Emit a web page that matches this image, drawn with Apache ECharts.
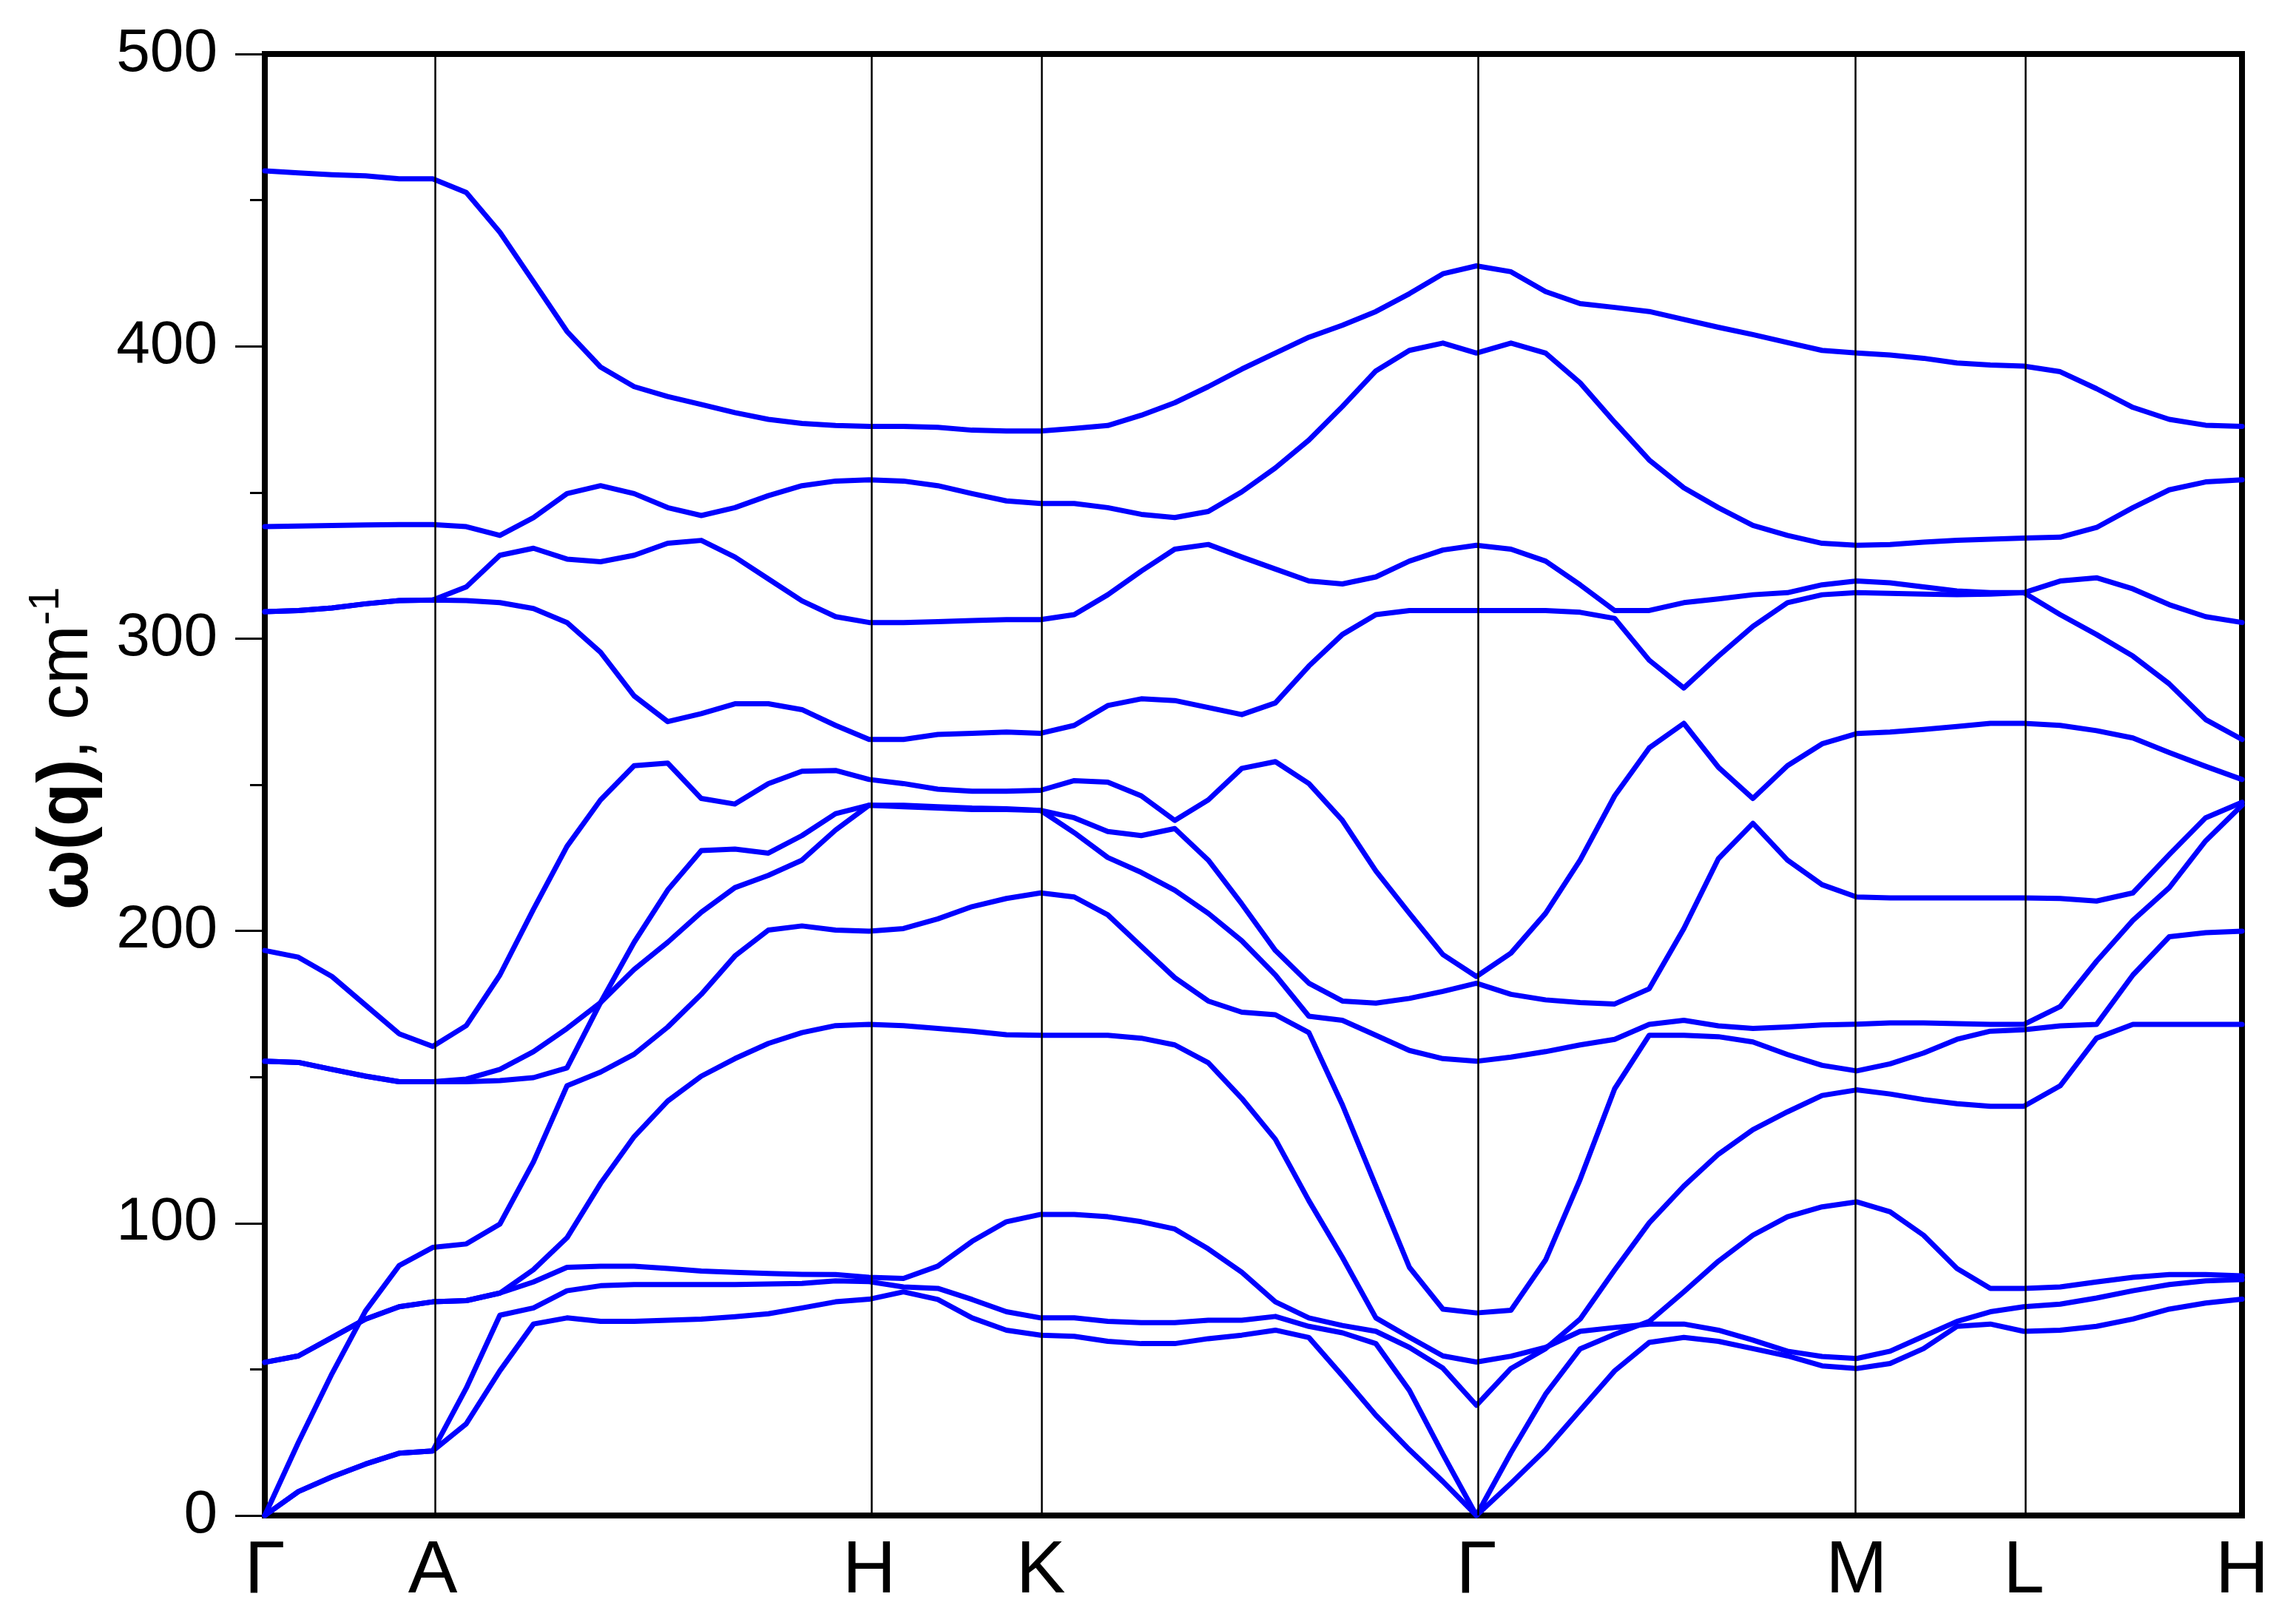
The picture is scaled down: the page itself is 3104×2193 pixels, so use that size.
<!DOCTYPE html>
<html><head><meta charset="utf-8">
<script src="https://cdn.jsdelivr.net/npm/echarts@6/dist/echarts.min.js"></script>
<style>html,body{margin:0;padding:0;background:#fff}#c{width:3104px;height:2193px}</style>
</head><body><div id="c"></div>
<script>
// High-symmetry points along the k-path
const symLabels = ['Γ','A','H','K','Γ','M','L','H'];
const symPos = [0, 0.227, 0.817, 1.049, 1.638, 2.152, 2.378, 2.673];
// q-point path coordinates
const kpath = [0, 0.0454, 0.0908, 0.1362, 0.1816, 0.227,
  0.2724, 0.3178, 0.3632, 0.4085, 0.4539, 0.4993, 0.5447, 0.5901, 0.6355, 0.6808, 0.7262, 0.7716, 0.817,
  0.8634, 0.9098, 0.9562, 1.0026, 1.049,
  1.0943, 1.1396, 1.1849, 1.2302, 1.2755, 1.3208, 1.3662, 1.4115, 1.4568, 1.5021, 1.5474, 1.5927, 1.638,
  1.6847, 1.7315, 1.7782, 1.8249, 1.8716, 1.9184, 1.9651, 2.0118, 2.0585, 2.1053, 2.152,
  2.1972, 2.2424, 2.2876, 2.3328, 2.378,
  2.4272, 2.4763, 2.5255, 2.5747, 2.6238, 2.673];
// phonon branches (cm^-1)
const band1 = [460.0, 459.3, 458.7, 458.3, 457.3, 457.3,
  452.6, 439, 422.1, 405.1, 392.9, 386.2, 382.8, 380.1, 377.3, 375, 373.6, 372.9, 372.6,
  372.6, 372.3, 371.3, 371, 371,
  371.9, 372.9, 376.4, 380.7, 386.2, 392.2, 397.7, 403.1, 407.2, 411.9, 418, 424.8, 427.5,
  425.5, 418.7, 414.6, 413.3, 411.9, 409.2, 406.5, 404, 401.3, 398.6, 397.7,
  397, 395.9, 394.3, 393.6, 393.2,
  391.3, 385.5, 379.1, 375, 373, 372.6];
const band2 = [338.3, 338.5, 338.7, 338.9, 339, 339,
  338.3, 335.3, 341.4, 349.6, 352.3, 349.6, 344.8, 342.1, 344.8, 348.9, 352.3, 353.9, 354.3,
  353.9, 352.3, 349.6, 347.1, 346.2,
  346.2, 344.8, 342.5, 341.4, 343.5, 350.2, 358.4, 367.9, 379.4, 391.6, 398.6, 401.1, 397.7,
  401.1, 397.7, 387.5, 374, 361.1, 351.6, 344.8, 338.7, 335.3, 332.6, 331.9,
  332.2, 333, 333.6, 334, 334.4,
  334.7, 338, 344.8, 350.9, 353.6, 354.3];
const band3 = [309.2, 309.6, 310.5, 311.9, 313, 313.2,
  317.7, 328.5, 330.9, 327.2, 326.3, 328.5, 332.6, 333.6, 327.9, 320.4, 312.9, 307.5, 305.5,
  305.5, 305.8, 306.2, 306.5, 306.5,
  308.2, 315, 323.1, 330.6, 332.2, 327.9, 323.8, 319.7, 318.7, 321.1, 326.5, 330.3, 331.9,
  330.6, 326.5, 318.4, 309.6, 309.6, 312.3, 313.6, 315, 315.7, 318.4, 319.7,
  319.1, 317.7, 316.3, 315.7, 315.7,
  319.7, 320.8, 317, 311.6, 307.5, 305.5];
const band4 = [309.2, 309.6, 310.5, 311.9, 313, 313.2,
  313, 312.3, 310.3, 305.5, 295.3, 280.4, 271.6, 274.3, 277.7, 277.7, 275.7, 270.3, 265.5,
  265.5, 267.2, 267.6, 268, 267.6,
  270.3, 277.1, 279.4, 278.8, 276.4, 274, 278, 290.6, 301.4, 308.2, 309.6, 309.6, 309.6,
  309.6, 309.6, 309, 306.9, 292.6, 283.1, 294, 304.2, 312.3, 315, 315.7,
  315.5, 315.2, 315, 315.2, 315.7,
  308.2, 301.4, 294, 284.5, 272.3, 265.5];
const band5 = [193.3, 191, 184.4, 174.6, 164.8, 160.5,
  167.6, 184.9, 207.4, 228.9, 244.8, 256.5, 257.4, 245.3, 243.4, 250.4, 254.6, 254.9, 251.8,
  250.4, 248.5, 247.8, 247.8, 248.1,
  251.4, 250.9, 246.2, 237.8, 244.8, 255.6, 257.9, 250.4, 237.8, 220.5, 206, 191.9, 184.4,
  192.4, 206, 224.2, 246.2, 262.6, 271, 256, 245.3, 256.5, 264, 267.5,
  268, 268.9, 269.9, 271, 271,
  270.3, 268.5, 266, 261, 256.3, 251.8];
const band6 = [155.4, 155, 152.6, 150.3, 148.4, 148.4,
  149.3, 152.6, 158.7, 166.6, 175.5, 186.8, 196.1, 206.4, 214.8, 219, 224.2, 234.5, 243,
  242.5, 242, 241.5, 241.5, 241.2,
  238.7, 234, 232.6, 235, 224.2, 209.2, 193.3, 182.1, 176, 175.3, 176.9, 179.3, 182.1,
  178.3, 176.4, 175.5, 175, 180.2, 200.8, 224.7, 236.8, 224.2, 215.8, 211.6,
  211.3, 211.3, 211.3, 211.3, 211.3,
  211.1, 210.2, 213, 226.1, 238.7, 244];
const band7 = [155.4, 155, 152.6, 150.3, 148.4, 148.4,
  148.4, 148.8, 149.8, 153.1, 175.5, 196.1, 214, 227.5, 228, 226.6, 232.6, 240.1, 243,
  243, 242.5, 242, 241.8, 241.2,
  233.6, 225.1, 220, 213.9, 206, 196.6, 184.9, 170.8, 169.4, 164.3, 159.1, 156.3, 155.4,
  156.8, 158.7, 161, 162.9, 168, 169.4, 167.5, 166.6, 167.1, 167.8, 168.1,
  168.5, 168.5, 168.3, 168, 168,
  174.1, 189.6, 203.6, 214.8, 230.8, 243];
const band8 = [0, 25, 48.5, 70, 85.5, 91.7,
  92.9, 99.7, 121, 147, 151.7, 157.8, 167.1, 178.3, 191.4, 200.3, 201.7, 200.3, 199.9,
  200.8, 204.1, 208.3, 211.1, 213,
  211.6, 205.5, 194.7, 184, 176, 172.2, 171.3, 165.2, 140.5, 112.7, 84.9, 70.6, 69.3,
  70.2, 87.4, 115, 146, 164.3, 164.3, 163.8, 162, 157.7, 154, 152.1,
  154.5, 158.2, 162.9, 165.7, 166.2,
  167.5, 168, 184.9, 198, 199.4, 199.9];
const band9 = [52.4, 54.6, 60.9, 67.2, 71.4, 73.1,
  73.5, 76.1, 84.1, 95, 113.6, 129.6, 141.8, 150.3, 156.3, 161.5, 165.2, 167.6, 168,
  167.6, 166.6, 165.7, 164.5, 164.3,
  164.3, 164.3, 163.3, 161, 154.9, 142.7, 128.7, 107.7, 88.3, 67.6, 61, 54.6, 52.5,
  54.5, 57.5, 63, 64.3, 65.5, 65.5, 63.4, 60, 56.2, 54.4, 53.7,
  56.2, 61.3, 66.4, 69.7, 71.4,
  72.3, 74.4, 76.9, 79, 80.3, 80.7];
const band10 = [52.4, 54.6, 60.9, 67.2, 71.4, 73.1,
  73.5, 76.1, 79.9, 84.9, 85.3, 85.3, 84.5, 83.6, 83.2, 82.8, 82.5, 82.4, 81.5,
  81.1, 85.3, 93.8, 100.5, 103,
  103, 102.2, 100.5, 98, 91.2, 83.2, 73.1, 67.6, 65, 63, 57.5, 50.4, 37.7,
  50.3, 57.1, 67.2, 84, 100.1, 112.7, 123.6, 132, 138.1, 143.7, 145.6,
  144.2, 142.3, 140.9, 140, 140,
  147, 163.3, 168, 168, 168, 168];
const band11 = [0, 8.2, 13.2, 17.6, 21.3, 22.1,
  43.6, 68.5, 71, 76.9, 78.6, 79, 79, 79, 79, 79.2, 79.4, 80.3, 80,
  78.2, 77.7, 73.9, 69.7, 67.6,
  67.6, 66.4, 66, 66, 66.8, 66.8, 68.1, 64.7, 62.5, 58.8, 42.8, 21, 0,
  21.5, 41.5, 57, 62, 66.4, 76.5, 87, 95.9, 102.2, 105.6, 107.3,
  103.9, 95.9, 84.5, 77.7, 77.7,
  78.2, 79.9, 81.5, 82.4, 82.4, 82];
const band12 = [0, 8.2, 13.2, 17.6, 21.3, 22.1,
  31.4, 49.5, 65.5, 67.6, 66.4, 66.4, 66.8, 67.2, 68, 69, 71, 73.1, 74,
  76.5, 73.9, 67.6, 63.4, 61.7,
  61.3, 59.6, 58.8, 58.8, 60.5, 61.7, 63.4, 60.9, 47.8, 34.3, 22.5, 11.6, 0,
  11, 22.5, 36, 49.5, 59.2, 60.9, 59.6, 57.1, 54.6, 51.2, 50.3,
  52, 57.1, 64.7, 65.5, 63,
  63.4, 64.7, 67.2, 70.6, 72.7, 74];

const bands = [band1, band2, band3, band4, band5, band6, band7, band8, band9, band10, band11, band12];

const chart = echarts.init(document.getElementById('c'), null, {renderer: 'canvas'});
const FONT = 'Liberation Sans, Arial, sans-serif';

const series = bands.map((b, i) => ({
  name: 'branch' + (i + 1),
  type: 'line',
  data: b.map((v, j) => [kpath[j], v]),
  showSymbol: false,
  symbol: 'none',
  silent: true,
  z: 2,
  lineStyle: {color: '#0000ff', width: 7, join: 'round', cap: 'round'}
}));
series.push({
  type: 'line',
  data: [],
  z: 5,
  silent: true,
  markLine: {
    silent: true,
    symbol: ['none', 'none'],
    label: {show: false},
    animation: false,
    lineStyle: {color: '#000', width: 2.5, type: 'solid'},
    data: symPos.slice(1, -1).map(p => ({xAxis: p}))
  }
});

chart.setOption({
  animation: false,
  backgroundColor: '#fff',
  grid: {left: 358, right: 73, top: 73, bottom: 144, show: true, borderColor: '#000', borderWidth: 8},
  xAxis: {
    type: 'value', min: 0, max: 2.673,
    axisLine: {show: true, lineStyle: {color: '#000', width: 8}},
    axisTick: {show: false},
    splitLine: {show: false},
    axisLabel: {
      customValues: symPos,
      showMinLabel: true, showMaxLabel: true, hideOverlap: false,
      formatter: function (v) {
        const i = symPos.findIndex(p => Math.abs(p - v) < 1e-6);
        return i >= 0 ? symLabels[i] : '';
      },
      fontSize: 100, color: '#000', margin: 26, fontFamily: FONT
    }
  },
  yAxis: {
    type: 'value', min: 0, max: 500, interval: 100,
    axisLine: {show: true, lineStyle: {color: '#000', width: 8}},
    axisTick: {show: true, inside: false, length: 40, lineStyle: {color: '#000', width: 3}},
    minorTick: {show: true, splitNumber: 2, length: 20, lineStyle: {color: '#000', width: 3}},
    splitLine: {show: false},
    axisLabel: {fontSize: 82, color: '#000', margin: 64, fontFamily: FONT}
  },
  graphic: [{
    type: 'text',
    x: 92, y: 1012,
    rotation: Math.PI / 2,
    style: {
      text: '{b|ω(q)}{n|, cm}{s|-1}',
      align: 'center',
      verticalAlign: 'middle',
      rich: {
        b: {fontSize: 96, fontWeight: 'bold', fontFamily: FONT, fill: '#000', lineHeight: 116},
        n: {fontSize: 96, fontFamily: FONT, fill: '#000', lineHeight: 116},
        s: {fontSize: 58, fontFamily: FONT, fill: '#000', lineHeight: 116, verticalAlign: 'top'}
      }
    }
  }],
  series: series
});
</script>
</body></html>
